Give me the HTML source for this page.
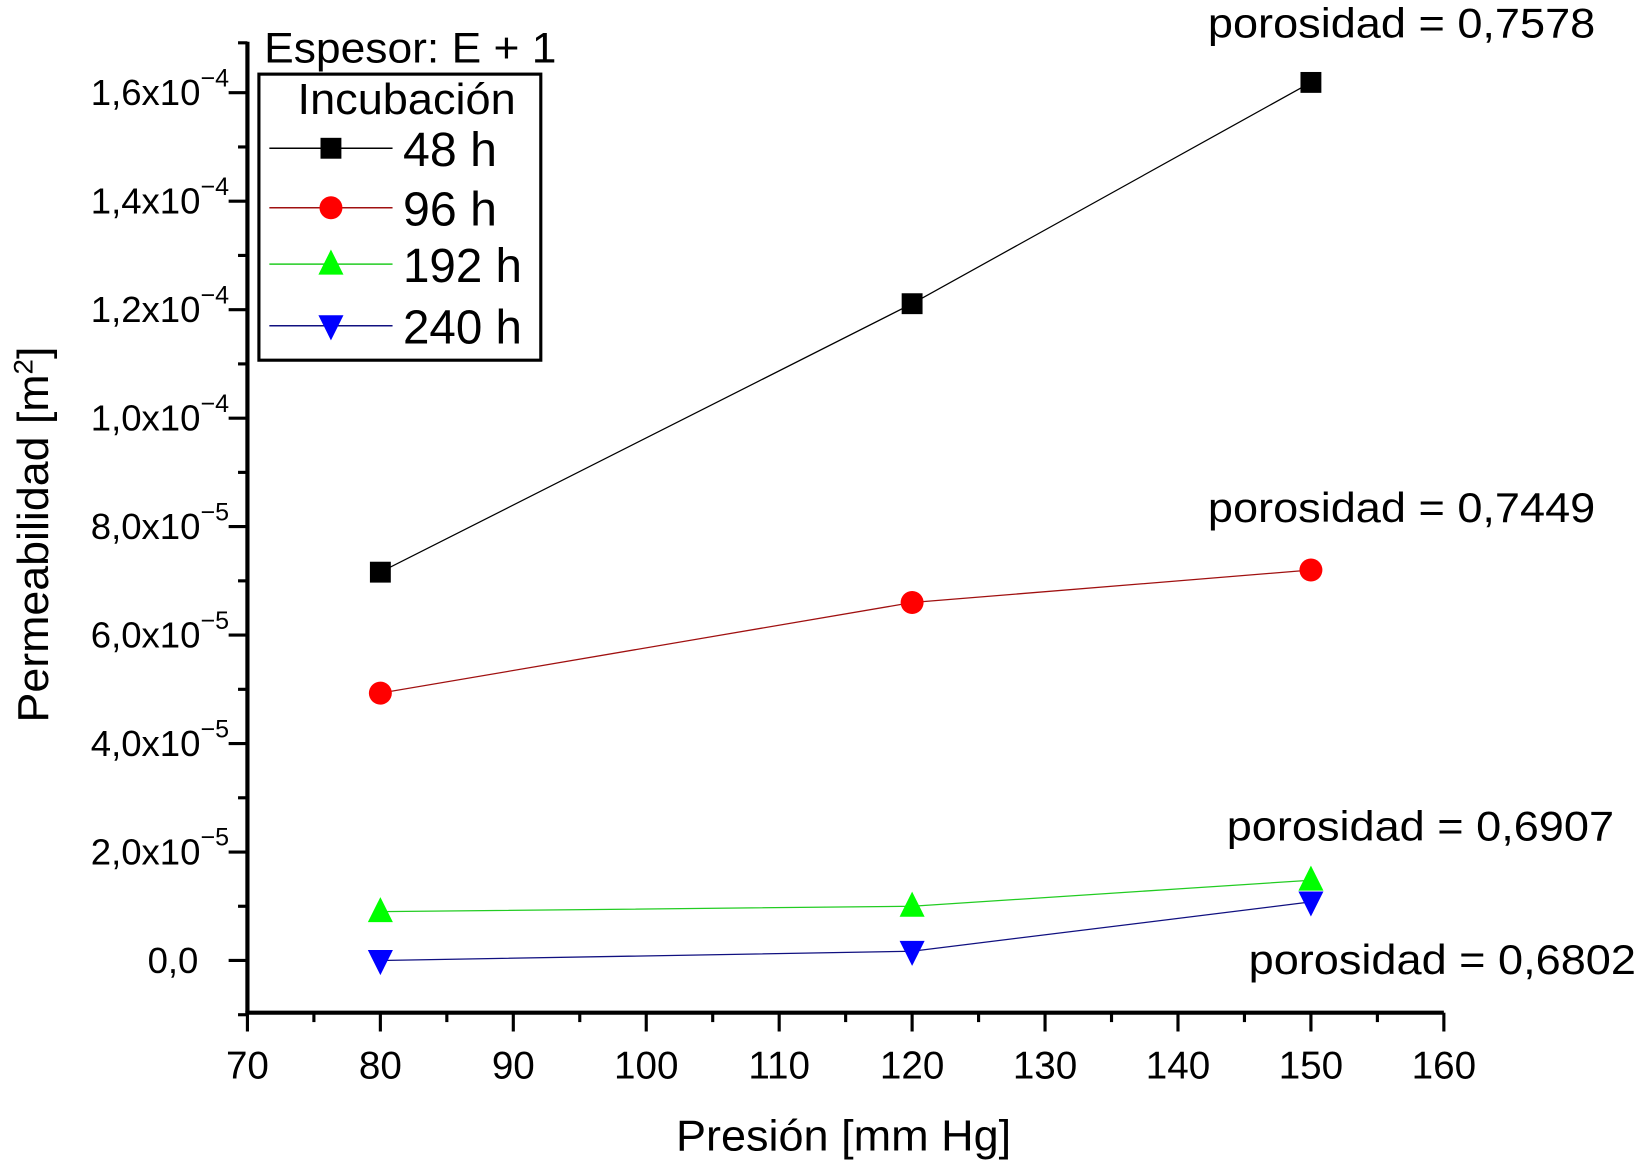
<!DOCTYPE html>
<html><head><meta charset="utf-8"><style>
html,body{margin:0;padding:0;background:#fff}
svg{display:block}
text{font-family:"Liberation Sans",Arial,sans-serif;fill:#000}
</style></head><body>
<svg id="chart" width="1637" height="1162" viewBox="0 0 1568 1113" xmlns="http://www.w3.org/2000/svg">
<g id="axes"></g>
<g id="series"></g>
<text x="808" y="1102" font-size="42" text-anchor="middle" textLength="321" lengthAdjust="spacingAndGlyphs">Presión [mm Hg]</text>
<text transform="translate(46,512) rotate(-90)" font-size="42" text-anchor="middle" textLength="360" lengthAdjust="spacingAndGlyphs">Permeabilidad [m<tspan dy="-15" font-size="26">2</tspan><tspan dy="15">]</tspan></text>
<text x="253" y="60" font-size="41" textLength="280" lengthAdjust="spacingAndGlyphs">Espesor: E + 1</text>
<g>
<rect x="248" y="71" width="270" height="274" fill="none" stroke="#000" stroke-width="3"/>
<text x="285" y="109" font-size="42" textLength="209" lengthAdjust="spacingAndGlyphs">Incubación</text>
</g>
<g id="legend-entries"></g>
<text x="1157" y="36" font-size="40" textLength="371" lengthAdjust="spacingAndGlyphs">porosidad = 0,7578</text>
<text x="1157" y="500" font-size="40" textLength="371" lengthAdjust="spacingAndGlyphs">porosidad = 0,7449</text>
<text x="1175" y="805" font-size="40" textLength="371" lengthAdjust="spacingAndGlyphs">porosidad = 0,6907</text>
<text x="1196" y="933" font-size="40" textLength="371" lengthAdjust="spacingAndGlyphs">porosidad = 0,6802</text>
</svg>
<script>
const pressures = [80, 120, 150];
const seriesNames = ["48 h", "96 h", "192 h", "240 h"];
const s48 = [7.16e-5, 1.211e-4, 1.619e-4];
const s96 = [4.93e-5, 6.60e-5, 7.20e-5];
const s192 = [0.90e-5, 1.00e-5, 1.48e-5];
const s240 = [0.00e-5, 0.17e-5, 1.08e-5];
const xTicks = [70, 80, 90, 100, 110, 120, 130, 140, 150, 160];
const yTicks = [0, 2e-5, 4e-5, 6e-5, 8e-5, 1e-4, 1.2e-4, 1.4e-4, 1.6e-4];
const yTickMant = ["0,0", "2,0x10", "4,0x10", "6,0x10", "8,0x10", "1,0x10", "1,2x10", "1,4x10", "1,6x10"];
const yTickExp = ["", "−5", "−5", "−5", "−5", "−4", "−4", "−4", "−4"];

const NS = "http://www.w3.org/2000/svg";
const X0 = 237, X1 = 1383, Y0 = 970, YTOP = 40;
const xMin = 70, xMax = 160;
const yZero = 920, yPer = 103.9 / 2e-5;
function sx(v) { return X0 + (v - xMin) / (xMax - xMin) * (X1 - X0); }
function sy(v) { return yZero - v * yPer; }
function mk(tag, attrs, parent) {
  const e = document.createElementNS(NS, tag);
  for (const k in attrs) e.setAttribute(k, attrs[k]);
  parent.appendChild(e);
  return e;
}
const axes = document.getElementById("axes");
let e;
e = mk("line", {x1: X0, y1: YTOP, x2: X0, y2: Y0, stroke: "#000", "stroke-width": 4}, axes);


e = mk("line", {x1: X0 - 2, y1: Y0, x2: X1, y2: Y0, stroke: "#000", "stroke-width": 4}, axes);


e = mk("line", {x1: X0 - 9, y1: YTOP + 1, x2: X0, y2: YTOP + 1, stroke: "#000", "stroke-width": 3}, axes);



xTicks.forEach((t, i) => {
  const x = sx(t);
  let l = mk("line", {x1: x, y1: Y0, x2: x, y2: Y0 + 18, stroke: "#000", "stroke-width": 3}, axes);
  
  
  let tx = mk("text", {x: x, y: 1033, "font-size": 37, "text-anchor": "middle"}, axes);
  tx.textContent = t;
  
  
  if (i < xTicks.length - 1) {
    const xm = sx(t + 5);
    let m = mk("line", {x1: xm, y1: Y0, x2: xm, y2: Y0 + 9, stroke: "#000", "stroke-width": 3}, axes);
    
    
  }
});
for (let v = -1e-5; v <= 1.6e-4 + 1e-9; v += 2e-5) {
  const y = sy(v);
  let m = mk("line", {x1: X0 - 9, y1: y, x2: X0, y2: y, stroke: "#000", "stroke-width": 3}, axes);
  
  
}
yTicks.forEach((t, i) => {
  const y = sy(t);
  let l = mk("line", {x1: X0 - 18, y1: y, x2: X0, y2: y, stroke: "#000", "stroke-width": 3}, axes);
  
  
  let tx = mk("text", {x: yTickExp[i] ? 192 : 190, y: y + 12, "font-size": 35, "text-anchor": "end"}, axes);
  tx.textContent = yTickMant[i];
  
  
  if (yTickExp[i]) {
    let sp = mk("text", {x: 192, y: y - 6, "font-size": 24, "text-anchor": "start"}, axes);
    sp.textContent = yTickExp[i];
    
    
  }
});

const seriesData = [s48, s96, s192, s240];
const lineColors = ["#000000", "#a01010", "#22cc22", "#101080"];
const fillColors = ["#000000", "#ff0000", "#00ff00", "#0000ff"];
const shapes = ["square", "circle", "up", "down"];
function marker(shape, cx, cy, fill, parent) {
  let m;
  if (shape === "square") m = mk("rect", {x: cx - 10, y: cy - 10, width: 20, height: 20, fill: fill}, parent);
  else if (shape === "circle") m = mk("circle", {cx: cx, cy: cy, r: 11, fill: fill}, parent);
  else if (shape === "up") m = mk("polygon", {points: `${cx},${cy - 14} ${cx - 12},${cy + 10} ${cx + 12},${cy + 10}`, fill: fill}, parent);
  else m = mk("polygon", {points: `${cx},${cy + 14} ${cx - 12},${cy - 10} ${cx + 12},${cy - 10}`, fill: fill}, parent);
  return m;
}
const sg = document.getElementById("series");
seriesData.forEach((vals, si) => {
  const g = mk("g", {}, sg);
  
  
  const pts = vals.map((v, i) => sx(pressures[i]) + "," + sy(v)).join(" ");
  const pl = mk("polyline", {points: pts, fill: "none", stroke: lineColors[si], "stroke-width": 1.2}, g);
  
  
  vals.forEach((v, i) => {
    const m = marker(shapes[si], sx(pressures[i]), sy(v), fillColors[si], g);
    
    
  });
});
const lg = document.getElementById("legend-entries");
const legendY = [142, 199, 253, 312];
const legendW = [90, 90, 114, 114];
seriesNames.forEach((n, i) => {
  const g = mk("g", {}, lg);
  
  
  mk("line", {x1: 258, y1: legendY[i], x2: 376, y2: legendY[i], stroke: lineColors[i], "stroke-width": 1.5}, g);
  marker(shapes[i], 317, legendY[i], fillColors[i], g);
  const t = mk("text", {x: 386, y: legendY[i] + 17, "font-size": 46, textLength: legendW[i], lengthAdjust: "spacingAndGlyphs"}, g);
  t.textContent = n;
  
  
});
</script>
</body></html>
